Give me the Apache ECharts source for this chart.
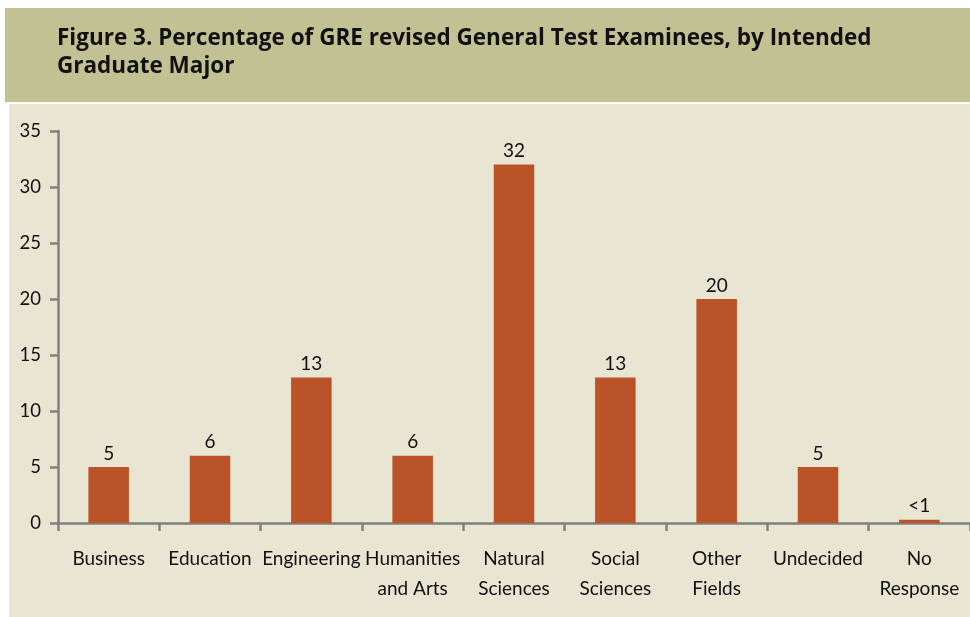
<!DOCTYPE html>
<html><head><meta charset="utf-8">
<script src="https://cdn.jsdelivr.net/npm/echarts@6/dist/echarts.min.js"></script>
<style>html,body{margin:0;padding:0;background:#fff}#c{width:970px;height:617px}</style>
</head><body><div id="c"></div>
<script>
const categories = ['Business','Education','Engineering','Humanities\nand Arts','Natural\nSciences','Social\nSciences','Other\nFields','Undecided','No\nResponse'];
const values = [5, 6, 13, 6, 32, 13, 20, 5, 0.3];
const valueLabels = ['5','6','13','6','32','13','20','5','<1'];
const yTicks = [0,5,10,15,20,25,30,35];
const titleText = 'Figure 3. Percentage of GRE revised General Test Examinees, by Intended\nGraduate Major';

const chart = echarts.init(document.getElementById('c'));
chart.setOption({
  animation: false,
  graphic: [
    {type:'rect', shape:{x:5,y:8,width:965,height:94}, style:{fill:'#C2C194'}, z:-10},
    {type:'rect', shape:{x:9,y:104,width:961,height:513}, style:{fill:'#E8E5D3'}, z:-10},
    {type:'text', left:57, top:25, style:{text:titleText, font:'bold 22.5px "Open Sans"', fill:'#111', lineHeight:28}}
  ],
  grid: {left:58, right:0, top:131, bottom:94},
  xAxis: {
    type:'category', data:categories,
    axisLine:{lineStyle:{color:'#808080', width:2.5}},
    axisTick:{show:true, length:8, lineStyle:{color:'#808080', width:2.5}},
    axisLabel:{color:'#111', fontFamily:'Lato', fontSize:19, lineHeight:30, margin:21, interval:0}
  },
  yAxis: {
    type:'value', min:0, max:35, interval:5,
    axisLine:{show:true, lineStyle:{color:'#808080', width:2.5}},
    axisTick:{show:true, length:8, lineStyle:{color:'#808080', width:2.5}},
    splitLine:{show:false},
    axisLabel:{color:'#111', fontFamily:'Lato', fontSize:18.5, margin:17,
      formatter: v => yTicks.includes(v) ? String(v) : ''}
  },
  series: [{
    type:'bar', data:values, barWidth:'40%',
    itemStyle:{color:'#BA5428'},
    label:{show:true, position:'top', distance:4, color:'#111', fontFamily:'Lato', fontSize:19,
      formatter: p => valueLabels[p.dataIndex]}
  }]
});
</script></body></html>
